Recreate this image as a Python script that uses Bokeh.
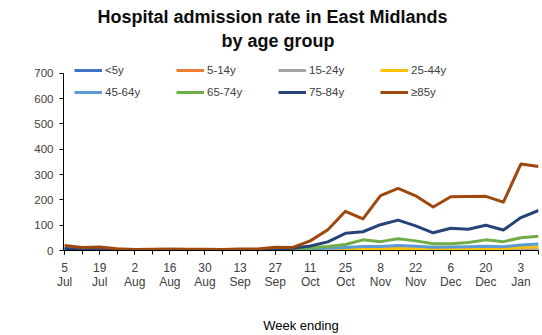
from bokeh.plotting import figure
from bokeh.models import Range1d, FixedTicker, Legend, LegendItem, Title
from bokeh.embed import file_html
from bokeh.resources import INLINE

weeks = list(range(28))
tick_labels = ["5\nJul", "19\nJul", "2\nAug", "16\nAug", "30\nAug", "13\nSep", "27\nSep",
               "11\nOct", "25\nOct", "8\nNov", "22\nNov", "6\nDec", "20\nDec", "3\nJan"]

age_groups = ["<5y", "5-14y", "15-24y", "25-44y", "45-64y", "65-74y", "75-84y", "≥85y"]
colors = ["#4472C4", "#ED7D31", "#A5A5A5", "#FFC000", "#5B9BD5", "#70AD47", "#264478", "#9E480E"]

under5 = [3, 2, 2, 1, 1, 1, 1, 1, 1, 1, 1, 1, 2, 2, 3, 3, 4, 4, 4, 5, 4, 3, 3, 3, 4, 3, 4, 5]
y5_14 = [0.5, 0.5, 0.5, 0.5, 0.5, 0.5, 0.5, 0.5, 0.5, 0.5, 0.5, 0.5, 0.5, 1, 1, 1, 1, 1, 1, 1, 1, 1, 1, 1, 1, 1, 1, 1]
y15_24 = [1, 1, 1, 1, 0.5, 0.5, 0.5, 0.5, 0.5, 0.5, 1, 1, 1, 1, 2, 2, 2, 3, 3, 3, 3, 2, 2, 2, 3, 3, 3, 4]
y25_44 = [1, 1, 1, 1, 0.5, 0.5, 0.5, 1, 1, 1, 1, 1, 1, 2, 3, 4, 5, 7, 7, 8, 7, 6, 6, 7, 8, 8, 12, 14]
y45_64 = [2, 2, 2, 1, 1, 1, 1, 1, 1, 1, 1, 2, 3, 4, 6, 9, 12, 16, 16, 20, 17, 13, 14, 15, 17, 15, 22, 26]
y65_74 = [4, 3, 3, 2, 1, 1, 2, 2, 1, 1, 2, 2, 4, 6, 10, 16, 24, 42, 35, 46, 38, 27, 27, 32, 42, 35, 50, 56]
y75_84 = [8, 5, 6, 4, 2, 2, 3, 3, 2, 2, 3, 4, 6, 9, 18, 34, 68, 74, 102, 120, 97, 70, 88, 84, 100, 81, 130, 158]
y85plus = [20, 12, 14, 7, 4, 5, 6, 5, 5, 4, 6, 6, 13, 12, 38, 82, 155, 125, 217, 245, 216, 172, 212, 213, 214, 191, 342, 332]

series = [under5, y5_14, y15_24, y25_44, y45_64, y65_74, y75_84, y85plus]

FONT = "Liberation Sans"
TXT = "#404040"

p = figure(width=542, height=335, output_backend="svg", toolbar_location=None,
           x_range=Range1d(-0.06, 27.0), y_range=Range1d(0, 782),
           min_border_left=63, min_border_right=4, min_border_top=52, min_border_bottom=84)

p.title.text = "Hospital admission rate in East Midlands"
p.title.align = "left"
p.title.offset = 34
p.title.text_font = FONT
p.title.text_font_size = "18px"
p.title.text_font_style = "bold"
p.title.text_color = "#0d0d0d"
p.title.standoff = 0

t2 = Title(text="by age group", align="left", offset=158,
           text_font=FONT, text_font_size="18px", text_font_style="bold",
           text_color="#0d0d0d", standoff=4)
p.add_layout(t2, "above")

p.xgrid.visible = False
p.ygrid.visible = False
p.outline_line_color = None

renderers = []
for vals, c in zip(series, colors):
    r = p.line(weeks, vals, line_color=c, line_width=3, line_join="round")
    renderers.append(r)

legend = Legend(items=[LegendItem(label=a, renderers=[r]) for a, r in zip(age_groups, renderers)],
                location=(11, 151), orientation="horizontal", ncols=4,
                border_line_alpha=0, background_fill_alpha=0,
                label_text_font=FONT, label_text_font_size="11.5px", label_text_color=TXT,
                glyph_width=28, glyph_height=14, label_height=14, label_width=63,
                label_standoff=3, spacing=8, padding=0, margin=0)
p.add_layout(legend, "center")

xa = p.xaxis[0]
xa.ticker = FixedTicker(ticks=list(range(0, 28, 2)), minor_ticks=list(range(28)))
xa.major_label_overrides = {i * 2: lab for i, lab in enumerate(tick_labels)}
xa.major_label_text_font = FONT
xa.major_label_text_font_size = "12px"
xa.major_label_text_color = TXT
xa.major_label_text_line_height = 1.0
xa.major_label_standoff = 6
xa.major_tick_in = 0
xa.major_tick_out = 4
xa.minor_tick_in = 0
xa.minor_tick_out = 4
xa.axis_line_color = "#000000"
xa.major_tick_line_color = "#000000"
xa.minor_tick_line_color = "#000000"
xa.axis_label = "Week ending"
xa.axis_label_text_font = FONT
xa.axis_label_text_font_size = "13px"
xa.axis_label_text_font_style = "normal"
xa.axis_label_text_color = "#000000"
xa.axis_label_standoff = 26

ya = p.yaxis[0]
ya.ticker = FixedTicker(ticks=list(range(0, 701, 100)))
ya.bounds = (0, 700)
ya.major_label_text_font = FONT
ya.major_label_text_font_size = "11.5px"
ya.major_label_text_color = TXT
ya.major_tick_in = 0
ya.major_tick_out = 4
ya.minor_tick_line_color = None
ya.axis_line_color = "#000000"
ya.major_tick_line_color = "#000000"
ya.major_label_standoff = 6

open("out.html", "w").write(file_html(p, INLINE))
